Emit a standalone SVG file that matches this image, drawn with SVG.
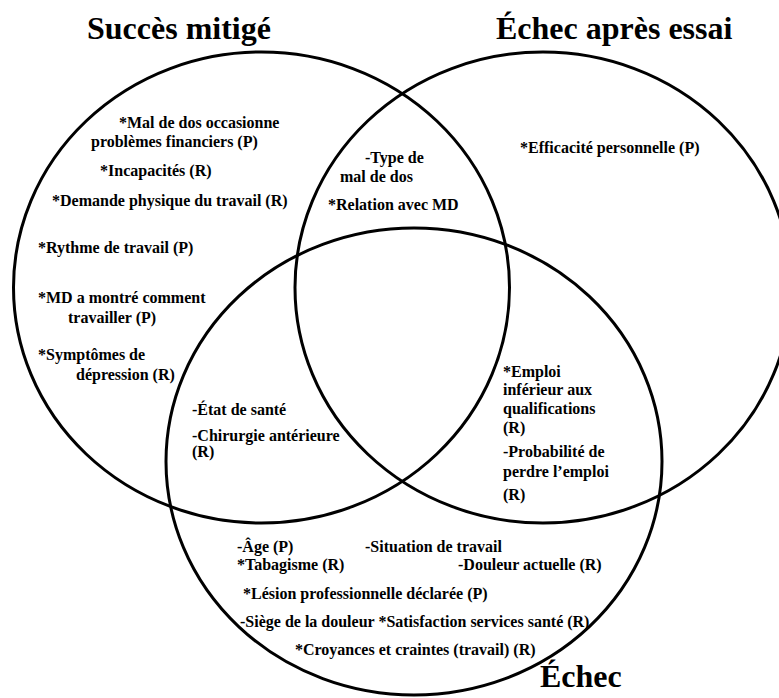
<svg xmlns="http://www.w3.org/2000/svg" width="779" height="698" viewBox="0 0 779 698">
<style>
.set{fill:none;stroke:#000;stroke-width:3}
text{font-family:'Liberation Serif','Times New Roman',Times,serif;font-weight:700;fill:#000}
.title{font-size:32px}
.item text{font-size:16px}
</style>
<rect width="779" height="698" fill="#fff"/>
<g id="set-succes-mitige">
<ellipse class="set" cx="261.5" cy="287.5" rx="248" ry="235.5"/>
<text class="title" x="87" y="39">Succès mitigé</text>
</g>
<g id="set-echec-apres-essai">
<ellipse class="set" cx="543" cy="287.5" rx="248" ry="235.5"/>
<text class="title" x="496" y="39">Échec après essai</text>
</g>
<g id="set-echec">
<ellipse class="set" cx="414" cy="461.5" rx="248" ry="233.5"/>
<text class="title" x="540" y="687">Échec</text>
</g>
<g id="region-succes-mitige" class="item">
<text x="119" y="128">*Mal de dos occasionne</text>
<text x="91" y="147">problèmes financiers (P)</text>
<text x="100" y="176">*Incapacités (R)</text>
<text x="52" y="206">*Demande physique du travail (R)</text>
<text x="38" y="253">*Rythme de travail (P)</text>
<text x="38" y="303">*MD a montré comment</text>
<text x="68" y="323">travailler (P)</text>
<text x="38" y="360">*Symptômes de</text>
<text x="76" y="380">dépression (R)</text>
</g>
<g id="region-mitige-essai" class="item">
<text x="365" y="163">-Type de</text>
<text x="340" y="182">mal de dos</text>
<text x="328" y="210">*Relation avec MD</text>
</g>
<g id="region-echec-apres-essai" class="item">
<text x="520" y="153">*Efficacité personnelle (P)</text>
</g>
<g id="region-mitige-echec" class="item">
<text x="192" y="415">-État de santé</text>
<text x="192" y="441">-Chirurgie antérieure</text>
<text x="192" y="457">(R)</text>
</g>
<g id="region-essai-echec" class="item">
<text x="503" y="377">*Emploi</text>
<text x="503" y="395">inférieur aux</text>
<text x="503" y="414">qualifications</text>
<text x="503" y="433">(R)</text>
<text x="503" y="457">-Probabilité de</text>
<text x="503" y="477">perdre l’emploi</text>
<text x="503" y="500">(R)</text>
</g>
<g id="region-echec" class="item">
<text x="237" y="552">-Âge (P)</text>
<text x="365" y="552">-Situation de travail</text>
<text x="237" y="570">*Tabagisme (R)</text>
<text x="458" y="570">-Douleur actuelle (R)</text>
<text x="243" y="599">*Lésion professionnelle déclarée (P)</text>
<text x="240" y="627">-Siège de la douleur *Satisfaction services santé (R)</text>
<text x="295" y="655">*Croyances et craintes (travail) (R)</text>
</g>
</svg>
